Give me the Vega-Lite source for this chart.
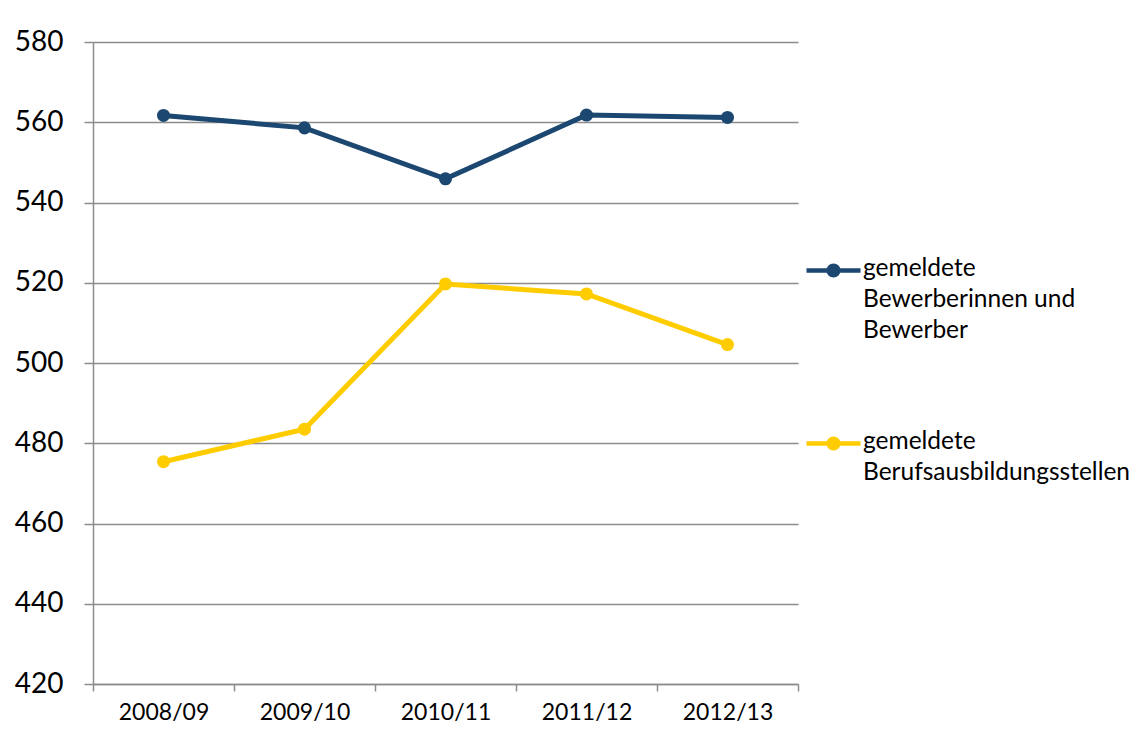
{
  "$schema": "https://vega.github.io/schema/vega-lite/v6.json",
  "autosize": {"type": "none"},
  "width": 705,
  "height": 642,
  "padding": {"left": 93, "top": 42, "right": 334, "bottom": 51},
  "background": "white",
  "config": {
    "font": "Lato",
    "view": {"stroke": null},
    "axis": {"labelFont": "Lato", "labelColor": "#000000", "domainColor": "#8c8c8c", "tickColor": "#8c8c8c", "gridColor": "#8c8c8c", "domainWidth": 1.5, "tickWidth": 1.5, "gridWidth": 1.5, "gridOpacity": 1}
  },
  "data": {
    "values": [
      {"jahr": "2008/09", "serie": "gemeldete Bewerberinnen und Bewerber", "wert": 561.7},
      {"jahr": "2009/10", "serie": "gemeldete Bewerberinnen und Bewerber", "wert": 558.6},
      {"jahr": "2010/11", "serie": "gemeldete Bewerberinnen und Bewerber", "wert": 545.9},
      {"jahr": "2011/12", "serie": "gemeldete Bewerberinnen und Bewerber", "wert": 561.8},
      {"jahr": "2012/13", "serie": "gemeldete Bewerberinnen und Bewerber", "wert": 561.2},
      {"jahr": "2008/09", "serie": "gemeldete Berufsausbildungsstellen", "wert": 475.4},
      {"jahr": "2009/10", "serie": "gemeldete Berufsausbildungsstellen", "wert": 483.5},
      {"jahr": "2010/11", "serie": "gemeldete Berufsausbildungsstellen", "wert": 519.7},
      {"jahr": "2011/12", "serie": "gemeldete Berufsausbildungsstellen", "wert": 517.2},
      {"jahr": "2012/13", "serie": "gemeldete Berufsausbildungsstellen", "wert": 504.6}
    ]
  },
  "mark": {"type": "line", "strokeWidth": 5, "point": {"filled": true, "size": 170, "opacity": 1}},
  "encoding": {
    "x": {
      "field": "jahr", "type": "nominal", "title": null,
      "scale": {"type": "band", "paddingInner": 0, "paddingOuter": 0},
      "axis": {"labelAngle": 0, "labelFontSize": 23, "tickSize": 7, "tickBand": "extent", "labelPadding": 10, "grid": false, "domain": true}
    },
    "y": {
      "field": "wert", "type": "quantitative", "title": null,
      "scale": {"domain": [420, 580], "nice": false, "zero": false},
      "axis": {"values": [420, 440, 460, 480, 500, 520, 540, 560, 580], "labelFontSize": 28, "tickSize": 9, "labelPadding": 21, "grid": true, "domain": true}
    },
    "color": {
      "field": "serie", "type": "nominal",
      "scale": {"domain": ["gemeldete Bewerberinnen und Bewerber", "gemeldete Berufsausbildungsstellen"], "range": ["#1B4770", "#FFCC00"]},
      "legend": {
        "title": null,
        "orient": "none",
        "legendX": 711,
        "legendY": 199,
        "padding": 0,
        "symbolType": "M-1,0H1M0.18,0A0.18,0.18,0,1,1,-0.18,0A0.18,0.18,0,1,1,0.18,0Z",
        "symbolSize": 2916,
        "symbolStrokeWidth": 4.5,
        "labelFont": "Lato",
        "labelFontSize": 24.5,
        "labelColor": "#000000",
        "labelLimit": 400,
        "labelOffset": 0,
        "labelBaseline": "top",
        "rowPadding": 72,
        "labelExpr": "datum.label == 'gemeldete Bewerberinnen und Bewerber' ? ['gemeldete', 'Bewerberinnen und', 'Bewerber'] : ['gemeldete', 'Berufsausbildungsstellen']",
        "encode": {
          "labels": {"update": {"lineHeight": {"value": 31}, "dy": {"value": -14}}},
          "symbols": {"update": {"fill": {"scale": "color", "field": "value"}, "stroke": {"scale": "color", "field": "value"}, "opacity": {"value": 1}}}
        }
      }
    }
  }
}
